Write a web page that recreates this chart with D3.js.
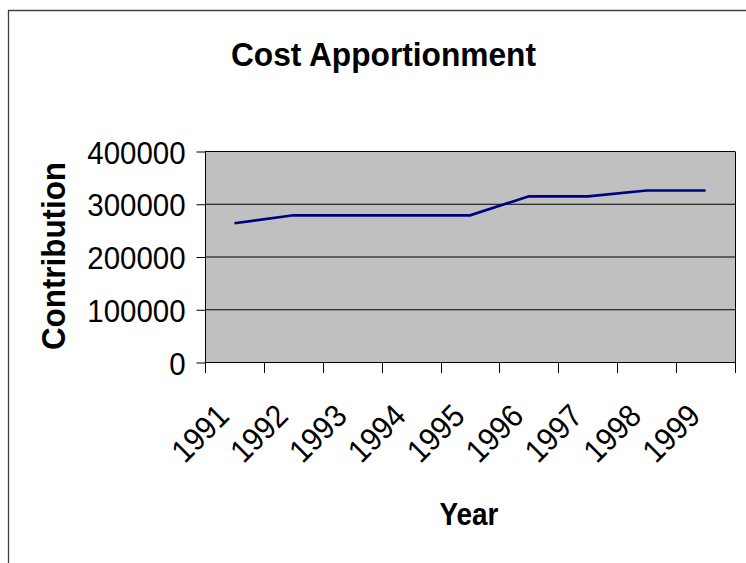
<!DOCTYPE html>
<html>
<head>
<meta charset="utf-8">
<script src="https://cdn.jsdelivr.net/npm/d3@7/dist/d3.min.js"></script>
<style>
  html, body { margin: 0; padding: 0; background: #fff; }
  svg { display: block; }
  text { font-family: Arial, "Liberation Sans", sans-serif; fill: #000; }
</style>
</head>
<body>
<svg id="chart" width="746" height="563"></svg>
<script>
const years = ["1991", "1992", "1993", "1994", "1995", "1996", "1997", "1998", "1999"];
const contribution = [264000, 279000, 279000, 279000, 279000, 315000, 315000, 326000, 326000];
const yTicks = [0, 100000, 200000, 300000, 400000];
const titleText = "Cost Apportionment";
const xTitle = "Year";
const yTitle = "Contribution";

const svg = d3.select("#chart");

// outer frame (only top and left edges visible)
svg.append("path")
  .attr("d", "M8.5,563 L8.5,10.5 L746,10.5")
  .attr("fill", "none")
  .attr("stroke", "#404040")
  .attr("stroke-width", 1.3);

const plot = { left: 205, right: 735, top: 151.5, bottom: 362.5 };

const x = d3.scaleBand().domain(years).range([plot.left, plot.right]).padding(0);
const y = d3.scaleLinear().domain([0, 400000]).range([plot.bottom, plot.top]);

function squeeze(sel, factor) {
  sel.each(function () {
    const w = this.getComputedTextLength();
    d3.select(this).attr("textLength", w * factor).attr("lengthAdjust", "spacingAndGlyphs");
  });
}

// plot background
svg.append("rect")
  .attr("x", plot.left).attr("y", plot.top)
  .attr("width", plot.right - plot.left).attr("height", plot.bottom - plot.top)
  .attr("fill", "#c0c0c0");

// gridlines
svg.append("g").selectAll("line").data(yTicks.filter(d => d > 0)).join("line")
  .attr("x1", plot.left).attr("x2", plot.right)
  .attr("y1", d => y(d)).attr("y2", d => y(d))
  .attr("stroke", "#000").attr("stroke-width", 1);

// right border of plot
svg.append("line")
  .attr("x1", plot.right + 0.5).attr("x2", plot.right + 0.5)
  .attr("y1", plot.top).attr("y2", plot.bottom)
  .attr("stroke", "#000").attr("stroke-width", 1);

// y axis
const yAxis = d3.axisLeft(y).tickValues(yTicks).tickSize(9).tickPadding(11).tickFormat(d3.format("d"));
const gy = svg.append("g").attr("transform", `translate(${plot.left + 0.5},0)`).call(yAxis);
gy.select(".domain").attr("stroke", "#000").attr("d", `M0,${plot.top}V${plot.bottom + 10.5}`);
gy.selectAll(".tick line").attr("stroke", "#000");
gy.selectAll(".tick text")
  .attr("font-family", "Arial, 'Liberation Sans', sans-serif")
  .attr("font-size", 32)
  .attr("fill", "#000")
  .attr("dy", "0.36em")
  .call(squeeze, 0.92);

// x axis: ticks at category boundaries
const boundaries = years.map(d => x(d)).concat([plot.right]);
svg.append("line")
  .attr("x1", plot.left).attr("x2", plot.right + 1)
  .attr("y1", plot.bottom).attr("y2", plot.bottom)
  .attr("stroke", "#000").attr("stroke-width", 1);
svg.append("g").selectAll("line").data(boundaries.slice(1)).join("line")
  .attr("x1", d => Math.round(d) + 0.5).attr("x2", d => Math.round(d) + 0.5)
  .attr("y1", plot.bottom).attr("y2", plot.bottom + 10.5)
  .attr("stroke", "#000").attr("stroke-width", 1);

// x tick labels rotated -45
svg.append("g").selectAll("text").data(years).join("text")
  .attr("transform", d => `translate(${x(d) + x.bandwidth() / 2 - 3.5},418) rotate(-45)`)
  .attr("text-anchor", "end")
  .attr("font-size", 32)
  .text(d => d)
  .call(squeeze, 0.92);

// line series
const line = d3.line()
  .x((d, i) => x(years[i]) + x.bandwidth() / 2)
  .y(d => y(d));
svg.append("path")
  .datum(contribution)
  .attr("d", line)
  .attr("fill", "none")
  .attr("stroke", "#000080")
  .attr("stroke-width", 2.6);

// titles
svg.append("text")
  .attr("x", 383.5).attr("y", 66)
  .attr("text-anchor", "middle")
  .attr("font-size", 33).attr("font-weight", "bold")
  .text(titleText)
  .call(squeeze, 0.96);

svg.append("text")
  .attr("transform", "translate(65,256) rotate(-90)")
  .attr("text-anchor", "middle")
  .attr("font-size", 33).attr("font-weight", "bold")
  .text(yTitle)
  .call(squeeze, 0.95);

svg.append("text")
  .attr("x", 469).attr("y", 525)
  .attr("text-anchor", "middle")
  .attr("font-size", 31).attr("font-weight", "bold")
  .text(xTitle)
  .call(squeeze, 0.9);
</script>
</body>
</html>
